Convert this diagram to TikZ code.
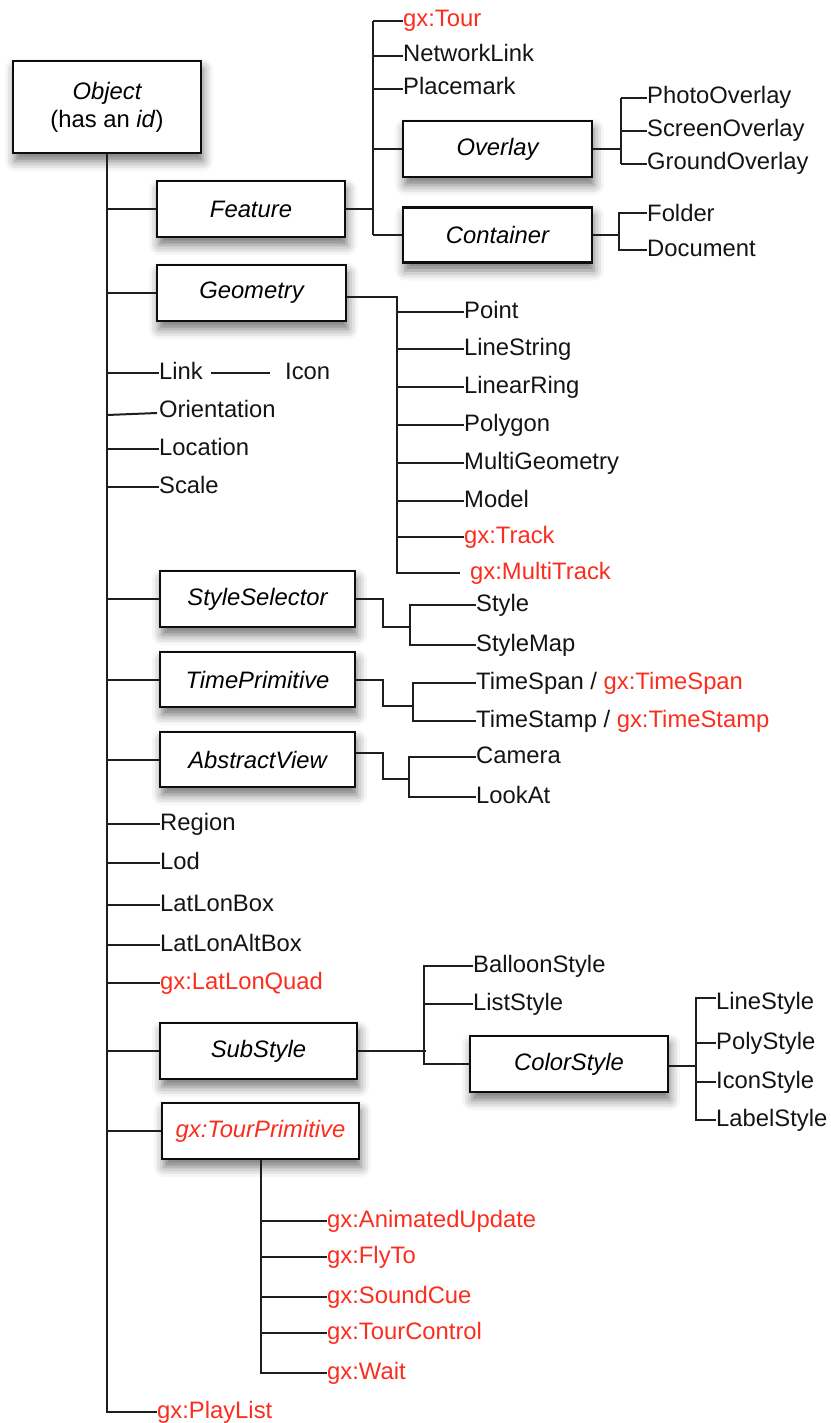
\documentclass[tikz,border=0pt]{standalone}
\usepackage{fontspec}
\setmainfont{Liberation Sans}
\usetikzlibrary{shadows.blur}
\definecolor{gxred}{RGB}{250,45,30}
\definecolor{ln}{RGB}{30,30,30}
\begin{document}
\begin{tikzpicture}[x=1pt,y=-1pt,
  every node/.style={font=\fontsize{23.8}{28}\selectfont},
  conn/.style={draw=ln, line width=2pt},
  lbl/.style={anchor=west, inner sep=0pt, text height=17pt, text depth=5pt, text=black!92},
  gx/.style={text=gxred},
  box/.style={draw=black!95, line width=2.4pt, fill=white, inner sep=0pt, minimum height=56pt,
    font=\fontsize{23.8}{28}\selectfont\itshape,
    blur shadow={shadow xshift=2pt, shadow yshift=-8pt, shadow blur radius=10pt, shadow opacity=55}},
]
\useasboundingbox (0,0) rectangle (830,1423);

% ---------- boxes ----------
\node[box, minimum width=188pt, minimum height=92pt, align=center] (obj) at (107,107) {Object\\{\upshape(has an \textit{id})}};
\node[box, minimum width=188pt] (feat) at (251,209) {Feature};
\node[box, minimum width=189pt] (geo) at (251.5,293) {Geometry};
\node[box, minimum width=189pt] (ov) at (497.5,149) {Overlay};
\node[box, minimum width=189pt, minimum height=55pt] (cont) at (497.5,235) {Container};
\node[box, minimum width=195pt] (ss) at (257.5,599) {StyleSelector};
\node[box, minimum width=195pt, minimum height=55pt] (tp) at (257.5,679.5) {TimePrimitive};
\node[box, minimum width=195pt, minimum height=55pt] (av) at (257.5,759.5) {AbstractView};
\node[box, minimum width=197pt] (sub) at (258.5,1051) {SubStyle};
\node[box, minimum width=198pt] (cs) at (569,1064) {ColorStyle};
\node[box, minimum width=197pt, text=gxred] (tour) at (260.5,1131) {gx:TourPrimitive};

% ---------- labels on the trunk ----------
\node[lbl] (link) at (159,373) {Link};
\node[lbl] (icon) at (285,373) {Icon};
\node[lbl] (ori) at (159,411) {Orientation};
\node[lbl] (loc) at (159,449) {Location};
\node[lbl] (scl) at (159,487) {Scale};
\node[lbl] (reg) at (160,824) {Region};
\node[lbl] (lod) at (160,863) {Lod};
\node[lbl] (llb) at (160,905) {LatLonBox};
\node[lbl] (llab) at (160,945) {LatLonAltBox};
\node[lbl, gx] (llq) at (160,983) {gx:LatLonQuad};
\node[lbl, gx] (pl) at (157,1412) {gx:PlayList};

% ---------- Feature children ----------
\node[lbl, gx] (gtour) at (403,21) {gx:Tour};
\node[lbl] (nl) at (403,56) {NetworkLink};
\node[lbl] (pm) at (403,89) {Placemark};
\node[lbl] (po) at (647,98) {PhotoOverlay};
\node[lbl] (so) at (647,131) {ScreenOverlay};
\node[lbl] (go) at (647,164) {GroundOverlay};
\node[lbl] (fo) at (647,216) {Folder};
\node[lbl] (doc) at (647,250) {Document};

% ---------- Geometry children ----------
\node[lbl] (pt) at (464,312) {Point};
\node[lbl] (ls) at (464,349) {LineString};
\node[lbl] (lr) at (464,387) {LinearRing};
\node[lbl] (pg) at (464,425) {Polygon};
\node[lbl] (mg) at (464,463) {MultiGeometry};
\node[lbl] (mdl) at (464,501) {Model};
\node[lbl, gx] (trk) at (464,537) {gx:Track};
\node[lbl, gx] (mt) at (470,573) {gx:MultiTrack};

% ---------- other children ----------
\node[lbl] (sty) at (476,605) {Style};
\node[lbl] (smap) at (476,645) {StyleMap};
\node[lbl] (tspan) at (476,683) {TimeSpan / \textcolor{gxred}{gx:TimeSpan}};
\node[lbl] (tstamp) at (476,721) {TimeStamp / \textcolor{gxred}{gx:TimeStamp}};
\node[lbl] (cam) at (476,757) {Camera};
\node[lbl] (look) at (476,797) {LookAt};
\node[lbl] (bal) at (473,966) {BalloonStyle};
\node[lbl] (lst) at (473,1004) {ListStyle};
\node[lbl] (lsty) at (716,1003) {LineStyle};
\node[lbl] (psty) at (716,1043) {PolyStyle};
\node[lbl] (isty) at (716,1082) {IconStyle};
\node[lbl] (lbsty) at (716,1120) {LabelStyle};
\node[lbl, gx] (anim) at (327,1221) {gx:AnimatedUpdate};
\node[lbl, gx] (fly) at (327,1257) {gx:FlyTo};
\node[lbl, gx] (snd) at (327,1297) {gx:SoundCue};
\node[lbl, gx] (tctl) at (327,1333) {gx:TourControl};
\node[lbl, gx] (wait) at (327,1373) {gx:Wait};

% ---------- trunk ----------
\draw[conn] (obj.south) |- (pl.west);
\foreach \n in {feat,geo,ss,tp,av,sub,tour} \draw[conn] (obj.south |- \n.west) -- (\n.west);
\foreach \n in {link,loc,scl,reg,lod,llb,llab,llq} \draw[conn] (obj.south |- \n.west) -- (\n.west);
\draw[conn] ([yshift=-4pt]obj.south |- ori.west) -- ([xshift=-2pt,yshift=-2pt]ori.west);
\draw[conn] ([xshift=8pt]link.east) -- ([xshift=-15pt]icon.west);

% ---------- Feature ----------
\coordinate (fv) at (373,211);
\draw[conn] (feat.east) -- (fv |- feat.east);
\draw[conn] (fv |- gtour.west) -- (fv |- cont.west);
\foreach \n in {gtour,nl,pm,ov,cont} \draw[conn] (fv |- \n.west) -- (\n.west);

\coordinate (ovv) at (621,149);
\draw[conn] (ov.east) -- (ov.east -| ovv);
\draw[conn] (ovv |- po.west) -- (ovv |- go.west);
\foreach \n in {po,so,go} \draw[conn] (ovv |- \n.west) -- (\n.west);

\coordinate (cv) at (619,235);
\draw[conn] (cont.east) -- (cont.east -| cv);
\draw[conn] ([yshift=3pt]fo.west) -| (cv |- doc.west) -- (doc.west);

% ---------- Geometry ----------
\coordinate (gv) at (397,297);
\coordinate (ge) at ([yshift=-4pt]geo.east);
\draw[conn] (ge) -| (gv |- mt.west) -- ([xshift=-10pt]mt.west);
\foreach \n in {pt,ls,lr,pg,mg,mdl,trk} \draw[conn] (gv |- \n.west) -- (\n.west);

% ---------- StyleSelector / TimePrimitive / AbstractView ----------
\coordinate (ssa) at (383,627);
\coordinate (ssv) at (410,627);
\draw[conn] (ss.east) -| (ssa) -- (ssv);
\draw[conn] (sty.west) -| (ssv |- smap.west) -- (smap.west);

\coordinate (tpa) at (383,706);
\coordinate (tpv) at (413,706);
\draw[conn] (tp.east) -| (tpa) -- (tpv);
\draw[conn] (tspan.west) -| (tpv |- tstamp.west) -- (tstamp.west);

\coordinate (ava) at (383,779);
\coordinate (avv) at (409,779);
\draw[conn] ([yshift=7pt]av.east) -| (ava) -- (avv);
\draw[conn] (cam.west) -| (avv |- look.west) -- (look.west);

% ---------- SubStyle / ColorStyle ----------
\coordinate (subv) at (424,1051);
\draw[conn] (sub.east) -- ([xshift=2pt]subv);
\draw[conn] (bal.west) -| (subv |- cs.west) -- (cs.west);
\draw[conn] (subv |- lst.west) -- (lst.west);

\coordinate (csv) at (696,1066);
\draw[conn] ([yshift=-2pt]cs.east) -- (csv);
\draw[conn] ([yshift=5pt]lsty.west) -| (csv |- lbsty.west) -- (lbsty.west);
\foreach \n in {psty,isty} \draw[conn] (csv |- \n.west) -- (\n.west);

% ---------- gx:TourPrimitive ----------
\draw[conn] (tour.south) -- (tour.south |- wait.west) -- (wait.west);
\foreach \n in {anim,fly,snd,tctl} \draw[conn] (tour.south |- \n.west) -- (\n.west);
\end{tikzpicture}
\end{document}
